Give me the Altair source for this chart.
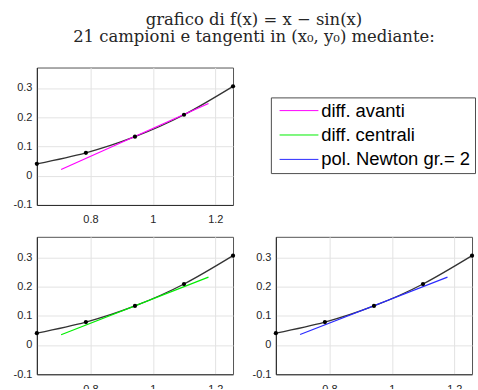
import altair as alt
import pandas as pd

# campioni della funzione
x_camp = [0.6283, 0.7854, 0.9425, 1.0996, 1.2566]
y_camp = [0.0405, 0.0783, 0.1335, 0.2085, 0.3056]

# tangenti in (x0, y0)
metodi = ["diff. avanti", "diff. centrali", "pol. Newton gr.= 2"]
colori = ["#ff00ff", "#00ee00", "#2a2aff"]
tang_x = [0.706, 1.178]
tang_y_avanti = [0.021, 0.247]
tang_y_centrali = [0.035, 0.232]
tang_y_newton = [0.036, 0.232]

x_ticks = [0.8, 1.0, 1.2]
y_ticks = [-0.1, 0, 0.1, 0.2, 0.3]
x_dom = [0.6283, 1.2566]
y_dom = [-0.1, 0.37]

df_camp = pd.DataFrame({"x": x_camp, "y": y_camp})
tang = {
    metodi[0]: tang_y_avanti,
    metodi[1]: tang_y_centrali,
    metodi[2]: tang_y_newton,
}

AX = "#262626"
W, H = 197, 138

leg = alt.Legend(orient="none", legendX=235, legendY=30, title=None,
                 symbolType="M-4,0H4", symbolSize=95, symbolStrokeWidth=1,
                 symbolOffset=15, labelOffset=13,
                 labelFontSize=18.5, labelFont="Liberation Sans", labelColor="black",
                 fillColor="white", strokeColor="#4d4d4d",
                 padding=4, rowPadding=5.5, labelLimit=400)


def pannello(metodo):
    df_t = pd.DataFrame({"x": tang_x, "y": tang[metodo], "metodo": [metodo] * 2})
    xenc = alt.X("x:Q", scale=alt.Scale(domain=x_dom, nice=False, zero=False),
                 axis=alt.Axis(values=x_ticks, labelExpr="'' + datum.value", labelPadding=9),
                 title=None)
    yenc = alt.Y("y:Q", scale=alt.Scale(domain=y_dom, nice=False, zero=False),
                 axis=alt.Axis(values=y_ticks, labelExpr="'' + datum.value", labelPadding=5),
                 title=None)
    curva = alt.Chart(df_camp).mark_line(color="#333333", strokeWidth=1.3,
                                         interpolate="natural").encode(x=xenc, y=yenc)
    punti = alt.Chart(df_camp).mark_circle(color="black", size=18, opacity=1).encode(x=xenc, y=yenc)
    col = alt.Stroke("metodo:N", scale=alt.Scale(domain=metodi, range=colori), legend=leg)
    tg = alt.Chart(df_t).mark_line(strokeWidth=1.2).encode(x=xenc, y=yenc, stroke=col)
    return alt.layer(curva, tg, punti).properties(width=W, height=H)


p1 = pannello(metodi[0])
p2 = pannello(metodi[1])
p3 = pannello(metodi[2])

chart = alt.vconcat(
    p1,
    alt.hconcat(p2, p3, spacing=14),
    spacing=10,
).resolve_scale(stroke="shared").resolve_legend(stroke="shared").properties(
    title=alt.TitleParams(
        text=["grafico di f(x) = x − sin(x)", "21 campioni e tangenti in (x₀, y₀) mediante:"],
        font="DejaVu Serif", fontSize=16.5, fontWeight="normal", color=AX,
        anchor="middle", lineHeight=17.5, offset=21.5, dx=10,
    ),
    padding={"left": 12, "top": 11, "right": 2, "bottom": -7},
).configure_view(
    stroke="#555555", strokeWidth=1
).configure_axis(
    grid=True, gridColor="#e3e3e3", gridWidth=1, domain=True, domainColor=AX,
    ticks=False, labelFont="Liberation Sans", labelFontSize=11, labelColor=AX,
)

chart.save("out.html", embed_options={"renderer": "svg", "actions": False})
